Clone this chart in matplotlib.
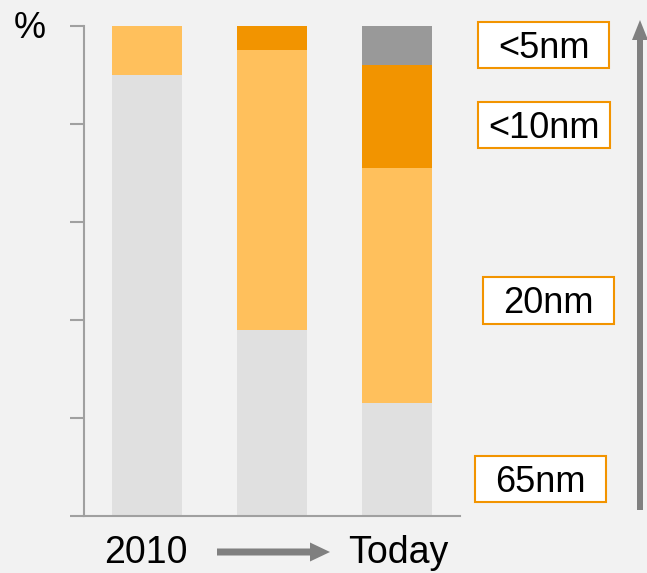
import matplotlib.pyplot as plt
from matplotlib.patches import Rectangle, FancyArrow

plt.rcParams['font.family'] = ['Liberation Sans', 'DejaVu Sans']

# stacked shares per period (%), bottom to top
periods = ['2010', '', 'Today']
nm65 = [90, 38, 23]
nm20 = [10, 57, 48]
nm10 = [0, 5, 21]
nm5 = [0, 0, 8]
node_labels = ['<5nm', '<10nm', '20nm', '65nm']

W, H = 647, 573
bg = '#f2f2f2'
fig = plt.figure(figsize=(W / 100, H / 100), dpi=100, facecolor=bg)

def fx(px):
    return px / W

def fy(py):
    return 1 - py / H

ax = fig.add_axes([fx(84), fy(516), fx(460) - fx(84), fy(26) - fy(516)])
ax.set_facecolor(bg)

x = range(len(periods))
w = 0.56
b = [0, 0, 0]
for vals, col in [(nm65, '#e0e0e0'), (nm20, '#ffc05c'), (nm10, '#f29400'), (nm5, '#999999')]:
    ax.bar(x, vals, w, bottom=b, color=col, linewidth=0)
    b = [b[i] + vals[i] for i in range(3)]

ax.set_xlim(-0.5, 2.5)
ax.set_ylim(0, 100)
ax.set_yticks([0, 20, 40, 60, 80, 100])
ax.set_yticklabels([])
ax.set_xticks([])
ax.tick_params(axis='y', length=10, width=1.5, color='#a0a0a0')
for s in ['top', 'right']:
    ax.spines[s].set_visible(False)
for s in ['left', 'bottom']:
    ax.spines[s].set_color('#a0a0a0')
    ax.spines[s].set_linewidth(1.5)
ax.spines['bottom'].set_bounds(-0.5, 2.5)

fig.text(fx(30), fy(28), '%', fontsize=26, ha='center', va='center')
fig.text(fx(146), fy(553), '2010', fontsize=27, ha='center', va='center')
fig.text(fx(398), fy(553), 'Today', fontsize=27, ha='center', va='center')

# node label boxes (pixel extents: x0, x1, y0, y1)
boxes = [(478, 609, 22, 68), (478, 610, 102, 148), (483, 614, 277, 324), (475, 606, 456, 502)]
for lab, (x0, x1, y0, y1) in zip(node_labels, boxes):
    fig.patches.append(Rectangle((fx(x0), fy(y1)), fx(x1) - fx(x0), fy(y0) - fy(y1),
                                 transform=fig.transFigure, facecolor='white',
                                 edgecolor='#f29400', linewidth=1.5))
    fig.text(fx((x0 + x1) / 2), fy((y0 + y1) / 2 + 3), lab, fontsize=26, ha='center', va='center')

# arrows
fig.patches.append(FancyArrow(fx(217), fy(552), fx(330) - fx(217), 0, width=7 / H,
                              head_width=19 / H, head_length=20 / W, length_includes_head=True,
                              transform=fig.transFigure, color='#808080', linewidth=0))
fig.patches.append(FancyArrow(fx(640), fy(510), 0, fy(20) - fy(510), width=6 / W,
                              head_width=16 / W, head_length=20 / H, length_includes_head=True,
                              transform=fig.transFigure, color='#808080', linewidth=0))

fig.savefig('out.png', dpi=100, facecolor=bg)
